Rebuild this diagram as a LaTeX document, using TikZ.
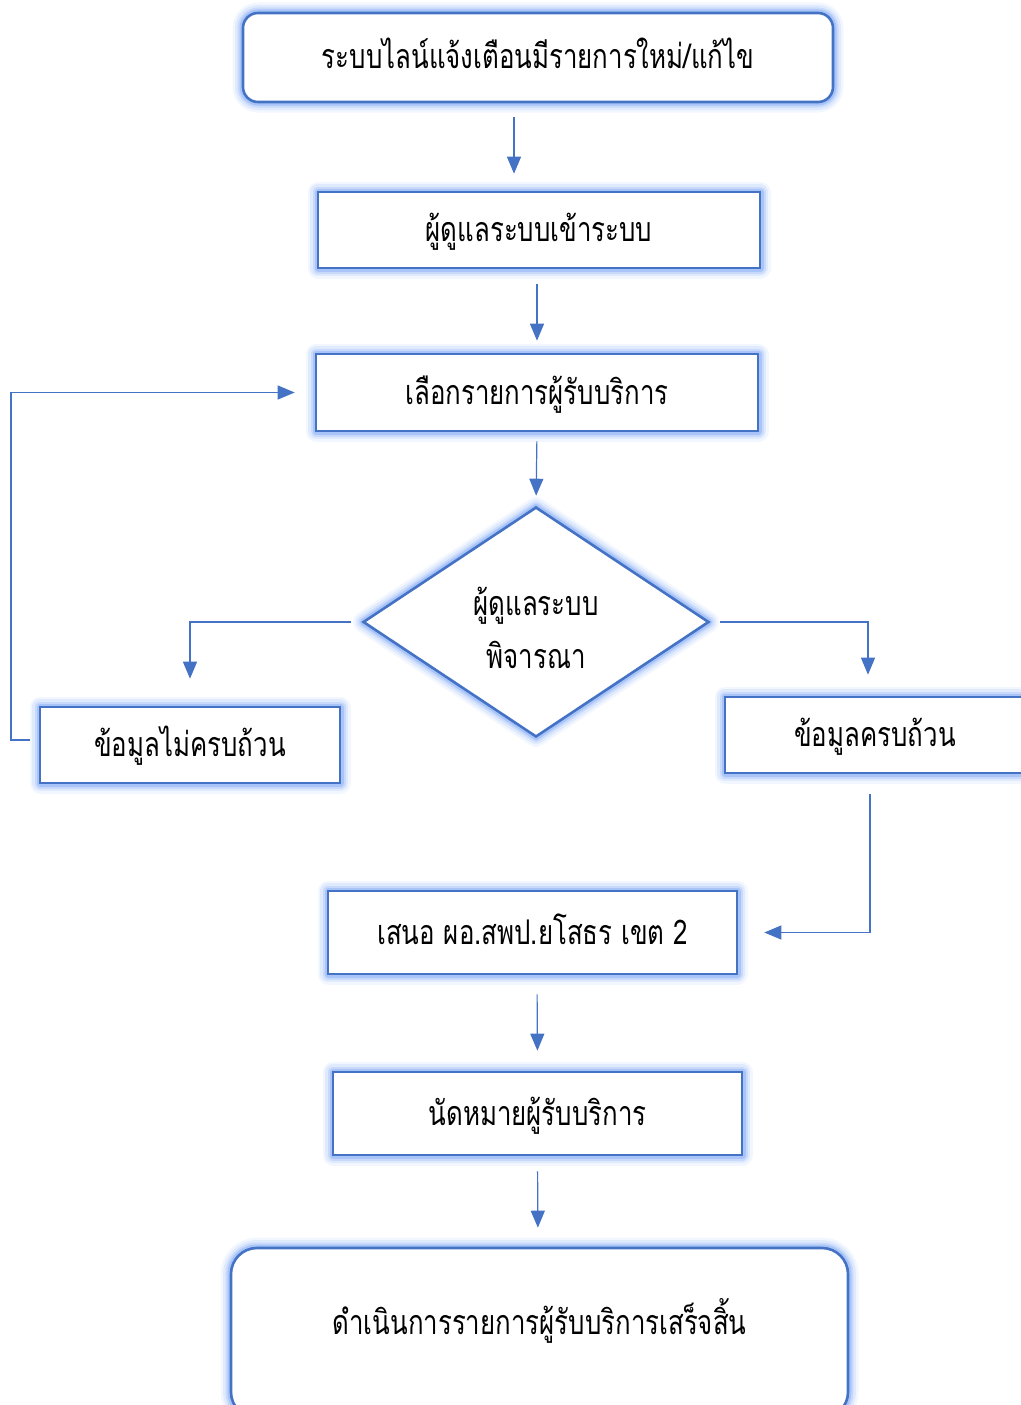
\documentclass[tikz,border=0pt]{standalone}
\usepackage{fontspec}
\newfontfamily\thaifont[Script=Thai,FakeStretch=0.76]{Loma}
\usetikzlibrary{arrows.meta,shapes.geometric}
\definecolor{edge}{RGB}{68,114,196}
\definecolor{glowc}{RGB}{130,170,245}
\tikzset{
  label/.style={font=\thaifont\fontsize{34}{40}\selectfont,
    text height=30pt,text depth=7pt},
  glow/.style={
    preaction={draw=glowc,line join=round,line width=21pt,opacity=0.1},
    preaction={draw=glowc,line join=round,line width=16pt,opacity=0.16},
    preaction={draw=glowc,line join=round,line width=11pt,opacity=0.26},
    preaction={draw=glowc,line join=round,line width=7pt,opacity=0.45}},
  stepbox/.style={glow,draw=edge,line width=2.6pt,fill=white,inner sep=0pt,label},
  roundbox/.style={stepbox,rounded corners=#1},
  decide/.style={stepbox,diamond,shape aspect=1.5},
  conn/.style={draw=edge,line width=1.2pt,-{Triangle[length=17pt,width=14pt]}}
}
\begin{document}
\begin{tikzpicture}[x=1pt,y=-1pt]
\useasboundingbox (0,0) rectangle (1020,1405);
\node[roundbox=15pt,minimum width=590pt,minimum height=89pt] (b1) at (538,57.5)
  {ระบบไลน์แจ้งเตือนมีรายการใหม่/แก้ไข};
\node[stepbox,minimum width=442pt,minimum height=76pt] (b2) at (539,230)
  {ผู้ดูแลระบบเข้าระบบ};
\node[stepbox,minimum width=442pt,minimum height=77pt] (b3) at (537,392.5)
  {เลือกรายการผู้รับบริการ};
\node[decide,minimum width=346pt,minimum height=230pt] (d) at (536,622)
  {};
\node[label] (d1) at (536,603.5) {ผู้ดูแลระบบ};
\node[label] (d2) at (536,657) {พิจารณา};
\node[stepbox,minimum width=300pt,minimum height=76pt] (b4) at (190,745)
  {ข้อมูลไม่ครบถ้วน};
\node[stepbox,minimum width=300pt,minimum height=76pt] (b5) at (875,735)
  {ข้อมูลครบถ้วน};
\node[stepbox,minimum width=409pt,minimum height=83pt] (b6) at (532.5,932.5)
  {เสนอ ผอ.สพป.ยโสธร เขต 2};
\node[stepbox,minimum width=409pt,minimum height=83pt] (b7) at (537.5,1113.5)
  {นัดหมายผู้รับบริการ};
\node[roundbox=26pt,minimum width=617pt,minimum height=170pt] (b8) at (539.5,1333)
  {};
\node[label] (b8t) at (539.5,1323)
  {ดำเนินการรายการผู้รับบริการเสร็จสิ้น};
% connectors
\draw[conn,shorten <=14pt,shorten >=17pt] ([xshift=-24pt]b1.south) -- ([xshift=-24pt]b1.south |- b2.north);
\draw[conn,shorten <=15pt,shorten >=12pt] ([xshift=-2pt]b2.south) -- (b3.north);
\draw[conn,shorten <=9pt,shorten >=10pt] (b3.south) -- (d.north);
\draw[conn,shorten <=11pt,shorten >=27pt] (d.west) -| (b4.north);
\draw[conn,shorten <=10pt,shorten >=21pt] (d.east) -| ([xshift=-7pt]b5.north);
\coordinate (lp) at (11,740);
\draw[conn,shorten <=9pt,shorten >=20pt] ([yshift=5pt]b4.west) -- (lp) |- (b3.west);
\draw[conn,shorten <=20pt,shorten >=26pt] ([xshift=-5pt]b5.south) |- (b6.east);
\draw[conn,shorten <=19pt,shorten >=20pt] ([xshift=4.5pt]b6.south) -- (b7.north);
\draw[conn,shorten <=15pt,shorten >=19pt] (b7.south) -- ([xshift=-1.5pt]b8.north);
\end{tikzpicture}
\end{document}
